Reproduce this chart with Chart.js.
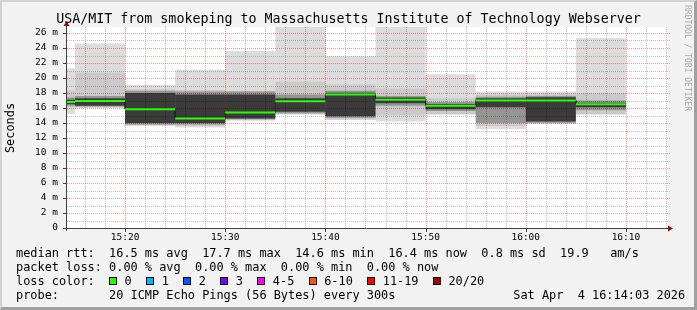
<!DOCTYPE html>
<html><head><meta charset="utf-8">
<script src="https://cdn.jsdelivr.net/npm/chart.js@4/dist/chart.umd.min.js"></script>
<style>
html,body{margin:0;padding:0;background:#f2f2f2;}
#wrap{position:relative;width:697px;height:310px;overflow:hidden;background:#f2f2f2;}
#frame{position:absolute;left:0;top:0;width:697px;height:310px;box-sizing:border-box;border-top:2px solid #d2d2d2;border-left:2px solid #d2d2d2;border-right:3px solid #a0a0a0;border-bottom:3px solid #a0a0a0;pointer-events:none;}
canvas{position:absolute;left:0;top:0;}
.t{position:absolute;font-family:'DejaVu Sans Mono',monospace;color:#000;white-space:pre;}
.leg{font-size:11.9px;line-height:14px;left:16px;}
.box{display:inline-block;box-sizing:border-box;width:8px;height:8px;border:1px solid #000;margin-right:7.5px;vertical-align:0px;}
.sp{display:inline-block;width:14.4px;}
</style></head>
<body>
<div id="wrap">
  <canvas id="c" width="697" height="310"></canvas>
  <div class="t" style="left:0;top:11px;width:697px;text-align:center;font-size:13.3px;line-height:16px;">USA/MIT from smokeping to Massachusetts Institute of Technology Webserver</div>
  <div class="t" style="left:-39.6px;top:120.5px;width:100px;height:14px;text-align:center;font-size:11.9px;line-height:14px;transform:rotate(-90deg);">Seconds</div>
  <div class="t" style="left:626.5px;top:53px;width:120px;height:10px;text-align:center;font-size:8px;line-height:10px;color:#a8a8a8;transform:rotate(90deg);">RRDTOOL / TOBI OETIKER</div>
  <div class="t leg" style="top:246.4px;">median rtt:  16.5 ms avg  17.7 ms max  14.6 ms min  16.4 ms now  0.8 ms sd  19.9   am/s</div>
  <div class="t leg" style="top:260.4px;">packet loss: 0.00 % avg  0.00 % max  0.00 % min  0.00 % now</div>
  <div class="t leg" id="lossRow" style="top:274.4px;">loss color:  </div>
  <div class="t leg" style="top:288.4px;">probe:       20 ICMP Echo Pings (56 Bytes) every 300s</div>
  <div class="t leg" style="top:288.4px;left:513.3px;">Sat Apr  4 16:14:03 2026</div>
  <div id="frame"></div>
</div>
<script>
// ---- data ----
const slotStarts = ['15:10','15:15','15:20','15:25','15:30','15:35','15:40','15:45','15:50','15:55','16:00','16:05'];
const pingMax   = [21.3, 24.6, 19.1, 21.1, 23.6, 28.0, 22.9, 29.0, 20.5, 18.2, 18.2, 25.3];
const pingHi2   = [18.3, 20.7, 18.5, 18.4, 18.3, 19.5, 19.1, 18.6, 17.3, 17.8, 17.9, 18.0];
const pingHi3   = [17.4, 17.6, 18.3, 18.2, 18.2, 17.8, 18.3, 17.6, 16.8, 17.5, 17.6, 17.0];
const pingHi4   = [17.1, 17.3, 18.0, 17.8, 17.8, 17.3, 18.05, 17.4, 16.55, 17.3, 17.45, 16.7];
const medianRtt = [16.8, 16.95, 15.85, 14.6, 15.4, 16.9, 17.8, 17.1, 16.3, 17.0, 17.0, 16.5];
const pingLo4   = [16.5, 16.3, 14.0, 14.0, 14.6, 15.5, 14.9, 16.65, 15.85, 16.1, 14.2, 16.1];
const pingLo3   = [16.3, 16.2, 13.8, 13.8, 14.5, 15.3, 14.7, 16.3, 15.6, 14.0, 14.05, 15.7];
const pingLo2   = [16.1, 16.1, 13.7, 13.6, 14.4, 15.2, 14.5, 15.0, 15.2, 13.6, 13.95, 15.2];
const pingMin   = [15.2, 16.0, 13.6, 13.4, 14.3, 15.1, 14.4, 14.2, 15.1, 13.2, 13.9, 15.1];
const xTickLabels = ['15:20','15:30','15:40','15:50','16:00','16:10'];
const yTickLabels = ['0','2 m','4 m','6 m','8 m','10 m','12 m','14 m','16 m','18 m','20 m','22 m','24 m','26 m'];
const lossLabels = ['0','1','2','3','4-5','6-10','11-19','20/20'];
const lossColors = ['#26ff00','#00b8ff','#0059ff','#7e00ff','#ff00ff','#ff5500','#ff0000','#a10000'];
const axisStart = '15:14:12', axisEnd = '16:14:12';
const slotMinutes = 5, xMinorStep = 2, yMinorStep = 1;

// ---- helpers ----
const toMin = s => { const p = s.split(':').map(Number); return (p[0]-15)*60 + p[1] + (p[2]||0)/60; };
const starts = slotStarts.map(toMin);
const centers = starts.map(s => s + slotMinutes/2);
const band = (lo, hi) => centers.map((c,i) => ({x:c, y:[lo[i], hi[i]]}));
const xMin = toMin(axisStart), xMax = toMin(axisEnd);
const xMajor = xTickLabels.map(toMin);
const yMajor = yTickLabels.map(l => parseFloat(l));
const near = (a, b) => Math.abs(a - b) < 1e-6;
const isMajor = (v, majors) => majors.some(m => near(m, v));

// legend row
const lossRow = document.getElementById('lossRow');
lossLabels.forEach((l,i) => {
  const b = document.createElement('span'); b.className='box'; b.style.background = lossColors[i]; lossRow.appendChild(b);
  lossRow.appendChild(document.createTextNode(l));
  if (i < lossLabels.length-1) { const s = document.createElement('span'); s.className='sp'; lossRow.appendChild(s); }
});

const barCommon = {type:'bar', xAxisID:'xb', borderWidth:0, barPercentage:1, categoryPercentage:1, grouped:false, inflateAmount:0};
const MAJOR_COL = 'rgba(255,0,0,0.42)', MINOR_COL = 'rgba(120,120,120,0.45)';

const decor = {
  id:'decor',
  beforeDraw(chart){
    const {ctx, chartArea:a} = chart;
    ctx.save(); ctx.fillStyle = '#ffffff';
    ctx.fillRect(a.left, a.top, a.right-a.left, a.bottom-a.top); ctx.restore();
  },
  beforeDatasetsDraw(chart){
    const {ctx, chartArea:a, scales} = chart;
    ctx.save(); ctx.lineWidth = 1; ctx.setLineDash([1,1]);
    const lines = (major) => {
      ctx.strokeStyle = major ? MAJOR_COL : MINOR_COL;
      ctx.beginPath();
      for (let v = Math.ceil(xMin/xMinorStep)*xMinorStep; v <= xMax + 1e-9; v += xMinorStep) {
        if (isMajor(v, xMajor) !== major) continue;
        const x = Math.round(scales.x.getPixelForValue(v)) + 0.5;
        ctx.moveTo(x, a.bottom); ctx.lineTo(x, a.top);
      }
      for (let v = yMinorStep; v <= scales.y.max + 1e-9; v += yMinorStep) {
        if (isMajor(v, yMajor) !== major) continue;
        const y = Math.round(scales.y.getPixelForValue(v)) + 0.5;
        ctx.moveTo(a.left, y); ctx.lineTo(a.right + 2, y);
      }
      ctx.stroke();
    };
    lines(false); lines(true);
    ctx.restore();
  },
  afterDraw(chart){
    const {ctx, chartArea:a, scales} = chart;
    ctx.save();
    ctx.strokeStyle = '#404040'; ctx.lineWidth = 1;
    ctx.beginPath();
    ctx.moveTo(a.left-0.5, a.bottom+3); ctx.lineTo(a.left-0.5, a.top-3);
    ctx.moveTo(a.left-4, a.bottom+0.5); ctx.lineTo(a.right+2, a.bottom+0.5);
    yMajor.forEach(v => { const y = Math.round(scales.y.getPixelForValue(v))+0.5; ctx.moveTo(a.left-4, y); ctx.lineTo(a.left-1, y); });
    xMajor.forEach(v => { const x = Math.round(scales.x.getPixelForValue(v))+0.5; ctx.moveTo(x, a.bottom+1); ctx.lineTo(x, a.bottom+4); });
    ctx.stroke();
    ctx.fillStyle = '#8b1010';
    ctx.beginPath();
    ctx.moveTo(a.left-3.5, a.top-1); ctx.lineTo(a.left+2.5, a.top-1); ctx.lineTo(a.left-0.5, a.top-6); ctx.closePath(); ctx.fill();
    ctx.beginPath();
    ctx.moveTo(a.right, a.bottom-2.5); ctx.lineTo(a.right, a.bottom+3.5); ctx.lineTo(a.right+5, a.bottom+0.5); ctx.closePath(); ctx.fill();
    ctx.restore();
  }
};

const tickFont = {family:'DejaVu Sans Mono', size:9.5};

new Chart(document.getElementById('c'), {
  type:'bar',
  data:{ datasets:[
    Object.assign({}, barCommon, {order:10, data:band(pingMin, pingMax), backgroundColor:'rgba(0,0,0,0.137)'}),
    Object.assign({}, barCommon, {order:9, data:band(pingLo2, pingHi2), backgroundColor:'rgba(0,0,0,0.08)'}),
    Object.assign({}, barCommon, {order:8, data:band(pingLo3, pingHi3), backgroundColor:'rgba(0,0,0,0.26)'}),
    Object.assign({}, barCommon, {order:7, data:band(pingLo4, pingHi4), backgroundColor:'rgba(0,0,0,0.6)'}),
    {type:'line', order:2, xAxisID:'x', data: starts.flatMap((s,i)=>[{x:s,y:medianRtt[i]},{x:s+slotMinutes,y:medianRtt[i]}]),
      borderColor:'#202020', borderWidth:1, pointRadius:0, tension:0, fill:false},
    {type:'line', order:1, xAxisID:'x', data: starts.flatMap((s,i)=>[{x:s,y:medianRtt[i]},{x:s+slotMinutes,y:medianRtt[i]},{x:s+slotMinutes,y:null}]),
      borderColor:'#26ff00', borderWidth:2, pointRadius:0, tension:0, fill:false, spanGaps:false, borderCapStyle:'butt'}
  ]},
  options:{
    responsive:false, animation:false, events:[],
    layout:{padding:{left:0, right:29, top:27, bottom:62}},
    plugins:{legend:{display:false}, tooltip:{enabled:false}, title:{display:false}},
    scales:{
      x:{type:'linear', position:'bottom', min:xMin, max:xMax, offset:false,
        afterBuildTicks: s => { s.ticks = xMajor.map(v => ({value:v})); },
        afterFit: s => { s.height = 20; },
        ticks:{autoSkip:false, maxRotation:0, color:'#000', font:tickFont, padding:4,
          callback: v => { const i = xMajor.findIndex(m => near(m, v)); return i >= 0 ? xTickLabels[i] : ''; }},
        grid:{display:false, drawTicks:false}, border:{display:false}
      },
      xb:{type:'linear', display:false, min:xMin, max:xMax, offset:false,
        afterBuildTicks: s => { s.ticks = [{value:s.min},{value:s.max}]; }},
      y:{type:'linear', min:0, max:26.8,
        afterBuildTicks: s => { s.ticks = yMajor.map(v => ({value:v})); },
        afterFit: s => { s.width = 67; },
        ticks:{autoSkip:false, color:'#000', font:tickFont, padding:9,
          callback: v => { const i = yMajor.findIndex(m => near(m, v)); return i >= 0 ? yTickLabels[i] : ''; }},
        grid:{display:false, drawTicks:false}, border:{display:false}
      }
    }
  },
  plugins:[decor]
});
</script>
</body></html>
